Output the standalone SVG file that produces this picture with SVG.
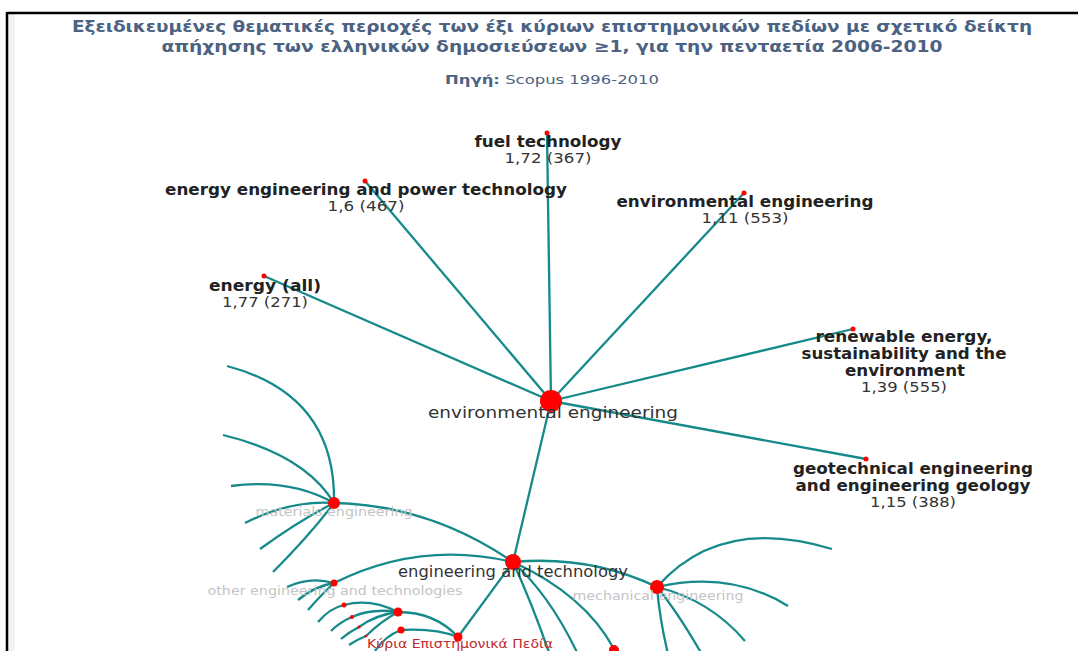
<svg xmlns="http://www.w3.org/2000/svg" width="1078" height="651" viewBox="0 0 1078 651">
<style>
.title{font-family:"DejaVu Sans","Verdana",sans-serif;font-weight:bold;font-size:16px;fill:#4b6282;text-anchor:middle}
.src{font-family:"DejaVu Sans",sans-serif;font-size:13px;fill:#4b6282;text-anchor:middle}
.lbl{font-family:"DejaVu Sans",sans-serif;font-weight:bold;font-size:15.5px;fill:#222;text-anchor:middle}
.val{font-family:"DejaVu Sans",sans-serif;font-size:14.5px;fill:#333;text-anchor:middle}
.hub{font-family:"DejaVu Sans",sans-serif;font-size:16px;fill:#333;text-anchor:middle}
.sub{font-family:"DejaVu Sans",sans-serif;font-size:12.5px;fill:#c4c4c4;text-anchor:middle}
.root{font-family:"DejaVu Sans",sans-serif;font-size:13px;fill:#c0282d;text-anchor:middle}
.link{fill:none;stroke:#168a8a;stroke-width:2.3}
.node{fill:#ff0000}
</style>
<rect x="0" y="0" width="1078" height="651" fill="#ffffff"/>
<rect x="8" y="13" width="7" height="638" fill="#f2f2f2"/>
<line x1="7" y1="13" x2="1078" y2="13" stroke="#000" stroke-width="2.5"/>
<line x1="7" y1="12" x2="7" y2="651" stroke="#000" stroke-width="2.5"/>

<g id="title">
<text class="title" x="552" y="32" textLength="960" lengthAdjust="spacingAndGlyphs">Εξειδικευμένες θεματικές περιοχές των έξι κύριων επιστημονικών πεδίων με σχετικό δείκτη</text>
<text class="title" x="552" y="52" textLength="781" lengthAdjust="spacingAndGlyphs">απήχησης των ελληνικών δημοσιεύσεων ≥1, για την πενταετία 2006-2010</text>
<text class="src" x="552" y="84" textLength="214" lengthAdjust="spacingAndGlyphs"><tspan font-weight="bold">Πηγή:</tspan> Scopus 1996-2010</text>
</g>

<g id="connectors">
<line class="link" x1="551" y1="401" x2="547" y2="133"/>
<line class="link" x1="551" y1="401" x2="365" y2="181"/>
<line class="link" x1="551" y1="401" x2="264" y2="276"/>
<line class="link" x1="551" y1="401" x2="744" y2="193"/>
<line class="link" x1="551" y1="401" x2="853" y2="329"/>
<line class="link" x1="551" y1="401" x2="866" y2="459"/>
<line class="link" x1="551" y1="401" x2="513" y2="562"/>
<path class="link" d="M513,562 Q430,505 334,503"/>
<path class="link" d="M513,562 Q420,540 334,583"/>
<path class="link" d="M513,562 Q590,555 657,587"/>
<line class="link" x1="513" y1="562" x2="458" y2="637"/>
<path class="link" d="M513,562 Q535,610 555,670"/>
<path class="link" d="M513,562 Q555,600 585,670"/>
<path class="link" d="M513,562 Q585,595 614,649"/>
<path class="link" d="M334,503 Q336,395 227,366"/>
<path class="link" d="M334,503 Q305,455 223,435"/>
<path class="link" d="M334,503 Q290,478 231,486"/>
<path class="link" d="M334,503 Q290,500 245,523"/>
<path class="link" d="M334,503 Q300,520 260,549"/>
<path class="link" d="M334,503 Q310,535 273,572"/>
<path class="link" d="M334,583 Q310,576 287,587"/>
<path class="link" d="M334,583 Q315,586 298,600"/>
<path class="link" d="M334,583 Q322,594 308,610"/>
<path class="link" d="M458,637 Q435,612 398,612"/>
<path class="link" d="M458,637 Q435,628 401,630"/>
<path class="link" d="M398,612 Q370,598 344,605"/>
<path class="link" d="M344,605 Q330,608 318,622"/>
<path class="link" d="M398,612 Q372,608 352,617"/>
<path class="link" d="M352,617 Q340,622 331,631"/>
<path class="link" d="M398,612 Q375,615 359,627"/>
<path class="link" d="M359,627 Q349,632 341,639"/>
<path class="link" d="M398,612 Q380,622 366,636"/>
<path class="link" d="M366,636 Q356,640 349,645"/>
<path class="link" d="M401,630 Q385,636 375,651"/>
<path class="link" d="M657,587 Q720,515 832,549"/>
<path class="link" d="M657,587 Q730,570 788,606"/>
<path class="link" d="M657,587 Q710,600 745,641"/>
<path class="link" d="M657,587 Q680,615 708,665"/>
<path class="link" d="M657,587 Q660,625 672,670"/>
</g>

<g id="node-env"><circle class="node" cx="551" cy="401" r="11"/><text class="hub" x="553" y="418" textLength="250" lengthAdjust="spacingAndGlyphs">environmental engineering</text></g>
<g id="node-fuel"><circle class="node" cx="547" cy="133" r="2.5"/><text class="lbl" x="548" y="147" textLength="147" lengthAdjust="spacingAndGlyphs">fuel technology</text><text class="val" x="548" y="163" textLength="87" lengthAdjust="spacingAndGlyphs">1,72 (367)</text></g>
<g id="node-energy-power"><circle class="node" cx="365" cy="181" r="2.5"/><text class="lbl" x="366" y="195" textLength="402" lengthAdjust="spacingAndGlyphs">energy engineering and power technology</text><text class="val" x="366" y="211" textLength="77" lengthAdjust="spacingAndGlyphs">1,6 (467)</text></g>
<g id="node-env-eng"><circle class="node" cx="744" cy="193" r="2.5"/><text class="lbl" x="745" y="207" textLength="257" lengthAdjust="spacingAndGlyphs">environmental engineering</text><text class="val" x="745" y="223" textLength="87" lengthAdjust="spacingAndGlyphs">1,11 (553)</text></g>
<g id="node-energy-all"><circle class="node" cx="264" cy="276" r="2.5"/><text class="lbl" x="265" y="291" textLength="112" lengthAdjust="spacingAndGlyphs">energy (all)</text><text class="val" x="265" y="307" textLength="86" lengthAdjust="spacingAndGlyphs">1,77 (271)</text></g>
<g id="node-renewable"><circle class="node" cx="853" cy="329" r="2.5"/><text class="lbl" x="904" y="342" textLength="177" lengthAdjust="spacingAndGlyphs">renewable energy,</text><text class="lbl" x="904" y="359" textLength="205" lengthAdjust="spacingAndGlyphs">sustainability and the</text><text class="lbl" x="905" y="376" textLength="120" lengthAdjust="spacingAndGlyphs">environment</text><text class="val" x="904" y="392" textLength="86" lengthAdjust="spacingAndGlyphs">1,39 (555)</text></g>
<g id="node-geotech"><circle class="node" cx="866" cy="459" r="2.5"/><text class="lbl" x="913" y="474" textLength="240" lengthAdjust="spacingAndGlyphs">geotechnical engineering</text><text class="lbl" x="913" y="491" textLength="235" lengthAdjust="spacingAndGlyphs">and engineering geology</text><text class="val" x="913" y="507" textLength="86" lengthAdjust="spacingAndGlyphs">1,15 (388)</text></g>

<g id="node-engtech"><circle class="node" cx="513" cy="562" r="8"/><text class="hub" x="513" y="577" font-size="15" textLength="230" lengthAdjust="spacingAndGlyphs">engineering and technology</text></g>
<g id="node-materials"><circle class="node" cx="334" cy="503" r="6"/><text class="sub" x="334" y="516" textLength="157" lengthAdjust="spacingAndGlyphs">materials engineering</text></g>
<g id="node-other"><circle class="node" cx="334" cy="583" r="3.5"/><text class="sub" x="335" y="595" textLength="255" lengthAdjust="spacingAndGlyphs">other engineering and technologies</text></g>
<g id="node-mechanical"><circle class="node" cx="657" cy="587" r="7"/><text class="sub" x="658" y="600" textLength="171" lengthAdjust="spacingAndGlyphs">mechanical engineering</text></g>
<g id="node-a"><circle class="node" cx="398" cy="612" r="4.5"/></g>
<g id="node-b"><circle class="node" cx="401" cy="630" r="3.5"/></g>
<g id="node-c"><circle class="node" cx="344" cy="605" r="2.5"/></g>
<g id="node-d"><circle class="node" cx="352" cy="617" r="2"/></g>
<g id="node-e"><circle class="node" cx="359" cy="627" r="1.6"/></g>
<g id="node-f"><circle class="node" cx="366" cy="636" r="1.3"/></g>
<g id="node-g"><circle class="node" cx="614" cy="650" r="5"/></g>
<g id="node-root"><circle class="node" cx="458" cy="637" r="4.5"/><text class="root" x="460" y="648" textLength="186" lengthAdjust="spacingAndGlyphs">Κύρια Επιστημονικά Πεδία</text></g>
</svg>
